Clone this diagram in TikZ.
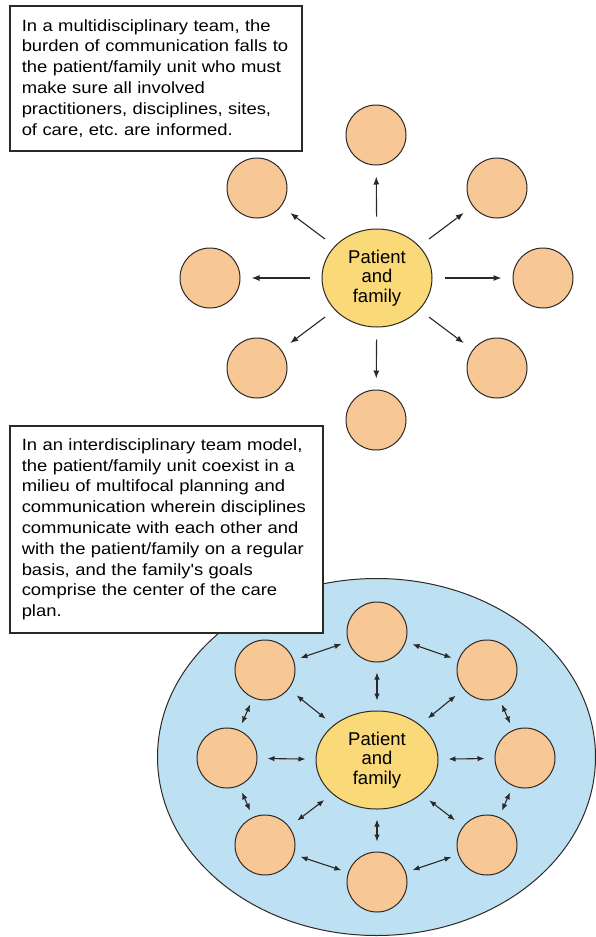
\documentclass[tikz,border=0pt]{standalone}
\usepackage{fontspec}
\setmainfont{Liberation Sans}
\newfontfamily\notefont{Liberation Sans}[FakeStretch=1.13]
\usetikzlibrary{arrows,arrows.meta,positioning,calc,shapes.geometric}

\definecolor{peach}{RGB}{247,199,150}
\definecolor{gold}{RGB}{249,217,120}
\definecolor{sky}{RGB}{189,225,242}
\definecolor{ink}{RGB}{45,40,38}

\begin{document}
\frenchspacing
\begin{tikzpicture}[x=1pt,y=-1pt,
        member/.style={circle,draw=ink,line width=1pt,fill=peach,minimum size=60pt,inner sep=0pt},
        unit/.style={ellipse,draw=ink,line width=1pt,fill=gold,align=center,inner sep=0pt,
                     font=\fontsize{18.5}{19.5}\selectfont},
        note/.style={draw=ink,line width=1.5pt,fill=white,align=left,anchor=north west,inner xsep=12pt,
                     font=\notefont\fontsize{16.3}{20.8}\selectfont},
        spoke/.style={-{Latex[length=8pt,width=6pt]},line width=1.1pt,ink},
        link/.style={{Latex[length=7pt,width=5.5pt]}-{Latex[length=7pt,width=5.5pt]},line width=1.1pt,ink}]
    \useasboundingbox (0,0) rectangle (596,937);

    %%%% Multidisciplinary ===========================
    % Note
    \node[note,minimum width=292pt,minimum height=145pt,text width=268pt] (note1) at (9,5)
        {In a multidisciplinary team, the\\
         burden of communication falls to\\
         the patient/family unit who must\\
         make sure all involved\\
         practitioners, disciplines, sites,\\
         of care, etc. are informed.};

    % Centre
    \node[unit,minimum width=110pt,minimum height=98pt] (pf) at (377,278) {Patient\\and\\family};

    % Members
    \node[member] (m1) at (376,135) {};
    \node[member] (m2) at (497,188) {};
    \node[member] (m3) at (543,278) {};
    \node[member] (m4) at (497,368) {};
    \node[member] (m5) at (376,420) {};
    \node[member] (m6) at (257,368) {};
    \node[member] (m7) at (210,278) {};
    \node[member] (m8) at (257,188) {};

    % Arcs
    \foreach \m in {m1,m2,m3,m4,m5,m6,m7,m8}
        \draw[spoke,shorten <=12pt,shorten >=11pt] (pf) -- (\m);

    %%%% Interdisciplinary ===========================
    \node[ellipse,fill=sky,draw=ink,line width=1pt,minimum width=438pt,minimum height=357pt] (milieu) at (376.5,757) {};

    % Note
    \node[note,minimum width=313pt,minimum height=207pt,text width=289pt] (note2) at (9,425)
        {In an interdisciplinary team model,\\
         the patient/family unit coexist in a\\
         milieu of multifocal planning and\\
         communication wherein disciplines\\
         communicate with each other and\\
         with the patient/family on a regular\\
         basis, and the family's goals\\
         comprise the center of the care\\
         plan.};

    % Centre
    \node[unit,minimum width=122pt,minimum height=98pt] (pf2) at (377,760) {Patient\\and\\family};

    % Members
    \node[member] (n1) at (377,632) {};
    \node[member] (n2) at (487,670) {};
    \node[member] (n3) at (525,758) {};
    \node[member] (n4) at (487,845) {};
    \node[member] (n5) at (377,882) {};
    \node[member] (n6) at (265,845) {};
    \node[member] (n7) at (227,758) {};
    \node[member] (n8) at (265,670) {};

    % Arcs
    \foreach \m in {n1,n2,n3,n4,n5,n6,n7,n8}
        \draw[link,shorten <=10pt,shorten >=10pt] (pf2) -- (\m);
    \foreach \a/\b in {n1/n2,n2/n3,n3/n4,n4/n5,n5/n6,n6/n7,n7/n8,n8/n1}
        \draw[link,shorten <=7pt,shorten >=7pt] (\a) -- (\b);
\end{tikzpicture}
\end{document}
